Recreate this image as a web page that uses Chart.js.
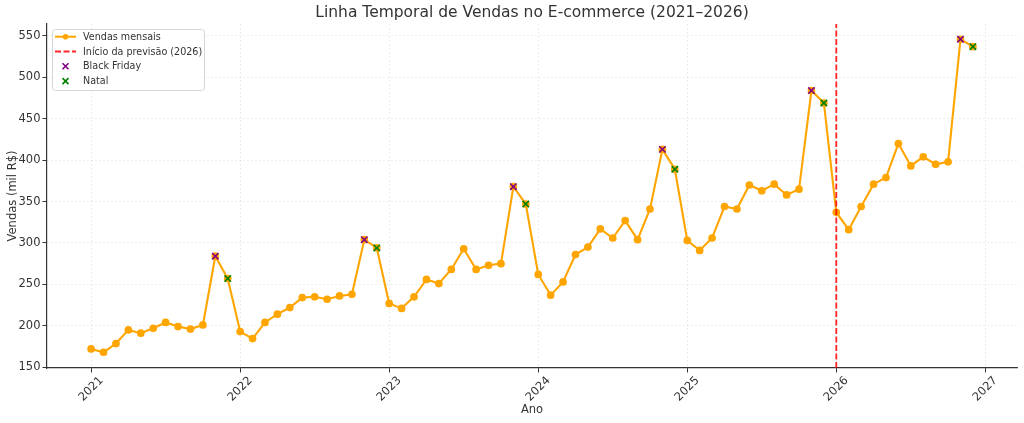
<!DOCTYPE html>
<html>
<head>
<meta charset="utf-8">
<script src="https://cdn.jsdelivr.net/npm/chart.js@4.4.1/dist/chart.umd.min.js"></script>
<style>
  html, body { margin: 0; padding: 0; background: #fff; }
  #wrap { width: 1024px; height: 423px; position: relative; }
</style>
</head>
<body>
<div id="wrap"><canvas id="vendasChart"></canvas></div>
<script>
// rótulos dos eixos
const anos = [2021, 2022, 2023, 2024, 2025, 2026, 2027];
const ticksY = [150, 200, 250, 300, 350, 400, 450, 500, 550];

// vendas mensais (mil R$), jan..dez
const vendas2021 = [172, 168, 178.5, 195, 191, 197, 204, 199, 196, 201, 284, 257];
const vendas2022 = [193, 184.5, 204, 214, 222, 234, 235, 232, 236, 238, 304, 294];
const vendas2023 = [227, 221, 235, 256, 251, 268, 293, 268, 273, 275, 368, 347];
const vendas2024 = [262, 237, 253, 286, 295, 317, 306, 327, 304, 341, 413, 389];
const vendas2025 = [303, 291, 306, 344, 341, 370, 363, 371, 358, 365, 484, 469];
const vendas2026 = [337, 316, 344, 371, 379, 420, 393, 404, 395, 398, 546, 537];

const mesBlackFriday = 11;
const mesNatal = 12;
const inicioPrevisao = 2026;

// limites dos eixos
const xMin = 2020.704, xMax = 2027.2125;
const yMin = 149, yMax = 564.4;

const laranja = '#FFA500';
const corTexto = '#333';
const fonte = 'DejaVu Sans';

const porAno = [vendas2021, vendas2022, vendas2023, vendas2024, vendas2025, vendas2026];
const serie = porAno.flatMap((valores, i) =>
    valores.map((v, m) => ({ x: anos[i] + m / 12, y: v, mes: m + 1 }))
);

function desenharX(c, x, y, r, cor, lw) {
    c.save();
    c.strokeStyle = cor;
    c.lineWidth = lw;
    c.beginPath();
    c.moveTo(x - r, y - r); c.lineTo(x + r, y + r);
    c.moveTo(x - r, y + r); c.lineTo(x + r, y - r);
    c.stroke();
    c.restore();
}

const decoracao = {
    id: 'decoracao',
    afterDraw(chart) {
        const c = chart.ctx;
        const a = chart.chartArea;
        const sx = chart.scales.x;

        // título
        c.save();
        c.fillStyle = corTexto;
        c.font = '15.5px "' + fonte + '"';
        c.textAlign = 'center';
        c.textBaseline = 'middle';
        c.fillText('Linha Temporal de Vendas no E-commerce (2021–2026)', (a.left + a.right) / 2, 13);
        c.restore();

        // rótulos do eixo x, girados 45°
        c.save();
        c.fillStyle = corTexto;
        c.font = '11.5px "' + fonte + '"';
        c.textAlign = 'center';
        c.textBaseline = 'middle';
        anos.forEach(ano => {
            const px = sx.getPixelForValue(ano);
            c.save();
            c.translate(px, a.bottom + 21);
            c.rotate(-Math.PI / 4);
            c.fillText(String(ano), 0, 0);
            c.restore();
        });
        c.restore();

        // legenda
        const x0 = a.left + 5, y0 = a.top + 5;
        c.save();
        c.fillStyle = 'rgba(255,255,255,0.85)';
        c.strokeStyle = '#d6d6d6';
        c.lineWidth = 1;
        c.beginPath();
        c.roundRect(x0 + 0.5, y0 + 0.5, 152, 61, 3);
        c.fill();
        c.stroke();
        c.font = '9.6px "' + fonte + '"';
        c.textBaseline = 'middle';
        c.textAlign = 'left';
        chart.data.datasets.forEach((ds, i) => {
            const y = y0 + 7.7 + i * 14.8;
            const hx = x0 + 13.5;
            if (i === 0) {
                c.strokeStyle = ds.borderColor;
                c.lineWidth = 2;
                c.beginPath(); c.moveTo(x0 + 3, y); c.lineTo(x0 + 24, y); c.stroke();
                c.fillStyle = ds.borderColor;
                c.beginPath(); c.arc(hx, y, 2.8, 0, Math.PI * 2); c.fill();
            } else if (i === 1) {
                c.strokeStyle = ds.borderColor;
                c.lineWidth = 1.8;
                c.setLineDash(ds.borderDash);
                c.beginPath(); c.moveTo(x0 + 3, y); c.lineTo(x0 + 24, y); c.stroke();
                c.setLineDash([]);
            } else {
                desenharX(c, hx, y, 3, ds.borderColor, 1.6);
            }
            c.fillStyle = corTexto;
            c.fillText(ds.label, x0 + 31, y + 0.5);
        });
        c.restore();
    }
};

const gradeComum = {
    color: 'rgba(0,0,0,0.12)',
    lineWidth: 0.8,
    tickColor: corTexto,
    tickLength: 4.5,
    tickWidth: 1
};
const bordaComum = { display: true, color: corTexto, width: 1.2, dash: [1.5, 2.5] };

const ctx = document.getElementById('vendasChart').getContext('2d');
new Chart(ctx, {
    type: 'line',
    data: {
        datasets: [
            {
                label: 'Vendas mensais',
                data: serie,
                borderColor: laranja,
                backgroundColor: laranja,
                borderWidth: 2.1,
                pointRadius: 2.8,
                pointHoverRadius: 2.8,
                tension: 0,
                order: 2
            },
            {
                label: 'Início da previsão (2026)',
                data: [{ x: inicioPrevisao, y: yMin }, { x: inicioPrevisao, y: yMax }],
                borderColor: 'rgba(255,0,0,0.85)',
                borderDash: [6, 2.5],
                borderWidth: 1.8,
                pointRadius: 0,
                order: 1
            },
            {
                label: 'Black Friday',
                data: serie.filter(p => p.mes === mesBlackFriday),
                showLine: false,
                pointStyle: 'crossRot',
                pointRadius: 4.5,
                pointHoverRadius: 4.5,
                borderColor: 'purple',
                backgroundColor: 'purple',
                borderWidth: 1.6,
                order: 0
            },
            {
                label: 'Natal',
                data: serie.filter(p => p.mes === mesNatal),
                showLine: false,
                pointStyle: 'crossRot',
                pointRadius: 4.5,
                pointHoverRadius: 4.5,
                borderColor: 'green',
                backgroundColor: 'green',
                borderWidth: 1.6,
                order: 0
            }
        ]
    },
    options: {
        responsive: true,
        maintainAspectRatio: false,
        animation: false,
        layout: { padding: { top: 24, right: 7, left: 0, bottom: 0 } },
        plugins: {
            legend: { display: false },
            title: { display: false },
            tooltip: { enabled: false }
        },
        scales: {
            x: {
                type: 'linear',
                min: xMin,
                max: xMax,
                afterBuildTicks: s => { s.ticks = anos.map(v => ({ value: v })); },
                afterFit: s => { s.height = 55; },
                ticks: { display: false },
                grid: gradeComum,
                border: bordaComum,
                title: {
                    display: true,
                    text: 'Ano',
                    color: corTexto,
                    font: { family: fonte, size: 11.5 },
                    padding: { top: 4, bottom: 6 }
                }
            },
            y: {
                min: yMin,
                max: yMax,
                afterBuildTicks: s => { s.ticks = ticksY.map(v => ({ value: v })); },
                afterFit: s => { s.width = 47; },
                ticks: { color: corTexto, font: { family: fonte, size: 11.5 }, padding: 2 },
                grid: gradeComum,
                border: bordaComum,
                title: {
                    display: true,
                    text: 'Vendas (mil R$)',
                    color: corTexto,
                    font: { family: fonte, size: 11.5 },
                    padding: { top: 6, bottom: 4 }
                }
            }
        }
    },
    plugins: [decoracao]
});
</script>
</body>
</html>
